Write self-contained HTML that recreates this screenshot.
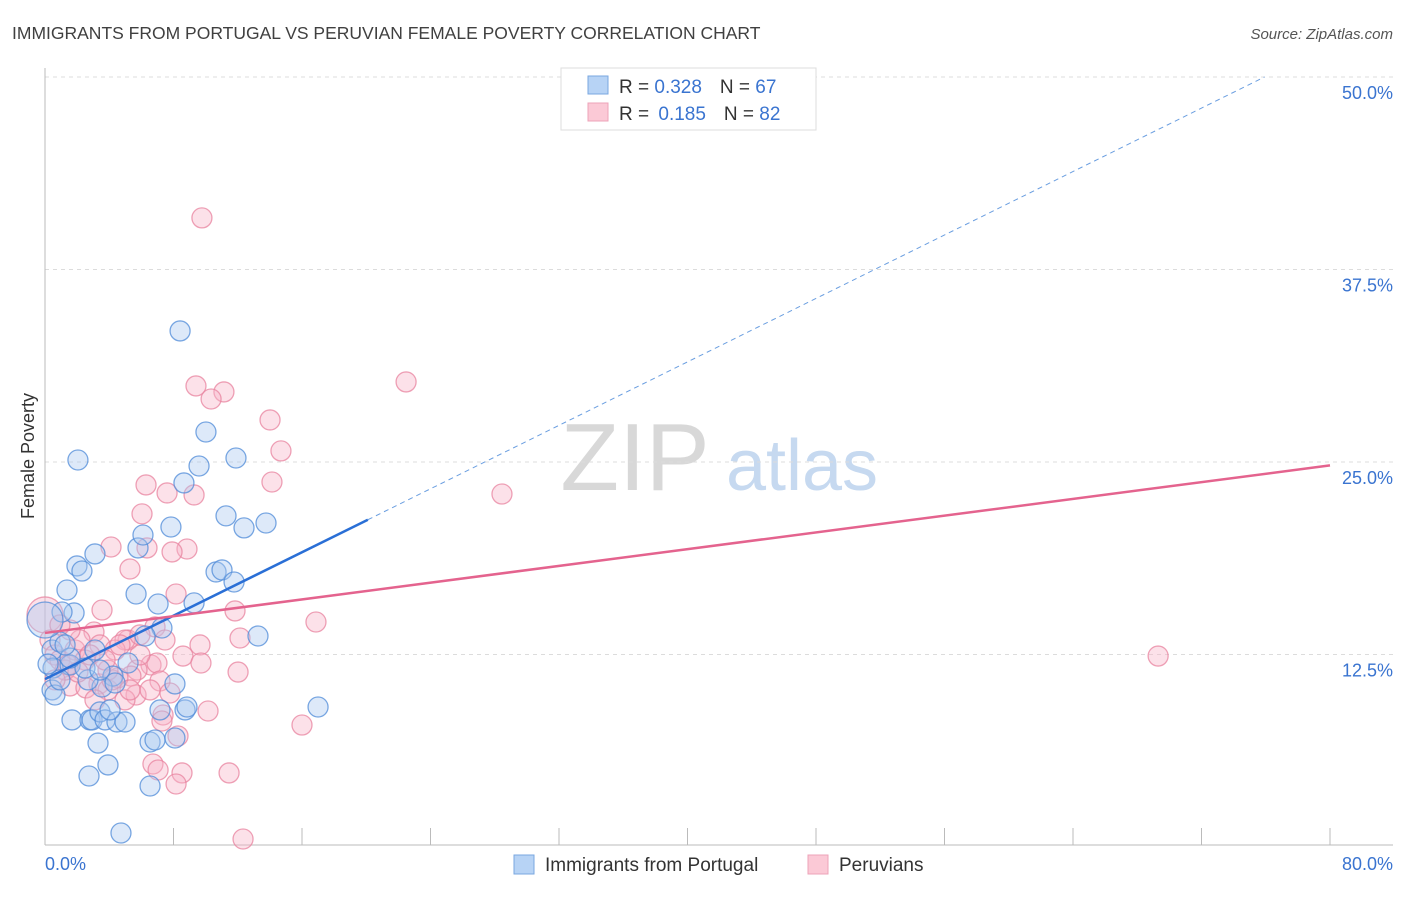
<!DOCTYPE html>
<html><head><meta charset="utf-8"><style>
body{margin:0;background:#fff;font-family:"Liberation Sans",sans-serif}
svg text{font-family:"Liberation Sans",sans-serif}
</style></head><body>
<svg id="chart" width="1406" height="892" viewBox="0 0 1406 892" xmlns="http://www.w3.org/2000/svg">
<text x="12" y="39" font-size="17.5" fill="#404040">IMMIGRANTS FROM PORTUGAL VS PERUVIAN FEMALE POVERTY CORRELATION CHART</text>
<text x="1393" y="39" font-size="15" fill="#555" font-style="italic" text-anchor="end">Source: ZipAtlas.com</text>
<g>
<text x="635" y="490" font-size="96" fill="#d8d8d8" font-family="Liberation Serif,serif" text-anchor="middle">ZIP</text>
<text x="802" y="490" font-size="72" fill="#c6d9f0" text-anchor="middle">atlas</text>
</g>
<g id="grid"></g>
<g id="axes"></g>
<g id="marks"></g>
<g id="trends"></g>
<text transform="translate(34,456) rotate(-90)" font-size="18" fill="#333" text-anchor="middle">Female Poverty</text>
<g>
<rect x="561" y="68" width="255" height="62" fill="#fff" stroke="#ddd"/>
<rect x="588" y="76" width="20" height="18" fill="#b7d3f5" stroke="#7aa7e0"/>
<rect x="588" y="103" width="20" height="18" fill="#fbc9d6" stroke="#eea3b8"/>
<text x="619" y="93" font-size="19" fill="#333">R = <tspan fill="#3a74d0">0.328</tspan><tspan dx="18" fill="#333">N = </tspan><tspan fill="#3a74d0">67</tspan></text>
<text x="619" y="120" font-size="19" fill="#333">R = <tspan dx="4" fill="#3a74d0">0.185</tspan><tspan dx="18" fill="#333">N = </tspan><tspan fill="#3a74d0">82</tspan></text>
</g>
<g>
<rect x="514" y="855" width="20" height="19" fill="#b7d3f5" stroke="#7aa7e0"/>
<text x="545" y="871" font-size="19" fill="#333">Immigrants from Portugal</text>
<rect x="808" y="855" width="20" height="19" fill="#fbc9d6" stroke="#eea3b8"/>
<text x="839" y="871" font-size="19" fill="#333">Peruvians</text>
</g>
</svg>
<script>
const xTicks=[0,8,16,24,32,40,48,56,64,72,80];
const yTicks=[12.5,25,37.5,50];
const yTickLabels=["12.5%","25.0%","37.5%","50.0%"];
const xEndLabels=["0.0%","80.0%"];
const blueX=[2.05,1.37,1.81,1.99,2.30,3.11,1.06,0.44,0.50,0.44,0.62,1.56,0.93,1.68,2.80,2.93,3.42,3.74,4.48,4.98,3.30,2.74,3.92,4.73,6.54,6.54,6.85,8.09,8.72,8.84,8.09,7.28,7.04,5.67,5.79,6.10,7.84,8.65,9.59,10.02,8.41,11.89,11.27,12.39,13.76,10.65,11.02,11.77,9.28,13.26,17.00,6.23,5.17,4.23,3.55,4.36,2.68,2.49,1.56,1.25,0.93,0,0.19,3.11,4.05,7.16,3.42];
const blueY=[25.13,16.69,15.20,18.25,17.92,19.03,15.26,12.79,11.62,10.20,9.87,11.82,13.31,8.25,8.25,8.25,8.77,8.25,8.12,8.12,6.75,4.61,5.33,0.91,3.96,6.82,6.95,7.08,8.90,9.09,10.59,14.22,15.78,16.43,19.42,20.26,20.78,23.64,24.74,26.95,33.51,25.26,21.50,20.72,21.04,17.86,17.99,17.21,15.85,13.70,9.09,13.70,11.95,11.10,10.39,10.65,10.85,11.62,12.27,13.12,10.85,14.74,11.88,12.79,8.90,8.90,11.49];
const pinkX=[9.77,9.40,11.14,10.34,22.48,14.01,14.69,14.13,28.45,6.29,7.60,9.28,6.04,4.11,6.35,8.84,7.91,5.29,8.16,3.55,11.83,16.87,3.05,5.17,4.98,6.85,9.65,12.14,8.59,9.71,6.60,6.97,5.73,5.35,4.54,3.36,1.56,2.55,3.92,7.16,12.02,5.67,7.78,4.17,10.15,7.35,7.28,16.00,8.28,6.72,7.04,8.53,8.16,11.46,12.33,69.30,0,0.31,0.62,0.93,1.25,1.87,2.18,2.49,1.56,3.42,4.36,2.80,5.91,4.98,6.54,4.67,0.62,1.43,2.05,3.92,7.47,3.11,5.29,5.91,0.93,3.74];
const pinkY=[40.85,29.94,29.55,29.09,30.20,27.73,25.72,23.70,22.92,23.51,22.99,22.86,21.63,19.48,19.42,19.35,19.16,18.05,16.43,15.39,15.33,14.61,13.96,13.44,13.44,14.29,13.12,13.57,12.40,11.95,11.82,11.95,11.49,11.10,10.98,10.59,10.46,10.33,10.20,10.78,11.36,9.87,10.00,10.85,8.83,8.57,8.18,7.92,7.21,5.39,5.00,4.81,4.09,4.81,0.52,12.40,15.07,13.44,12.47,12.14,11.49,12.79,13.44,12.14,14.09,13.12,12.79,12.47,12.47,9.55,10.20,13.12,10.85,11.82,11.36,11.49,13.44,9.55,10.20,13.77,14.42,12.14];
const blueTrend=[10.9,0.515];
const pinkTrend=[13.9,0.136];
const NS="http://www.w3.org/2000/svg";
const X0=45,X1=1330,Y0=847,YPER=192.5/12.5;
function sx(v){return X0+v/80*(X1-X0);}
function sy(v){return Y0-v*YPER;}
function mk(tag,attrs,parent){const e=document.createElementNS(NS,tag);for(const k in attrs)e.setAttribute(k,attrs[k]);parent.appendChild(e);return e;}
const grid=document.getElementById('grid'),axes=document.getElementById('axes'),marks=document.getElementById('marks'),trends=document.getElementById('trends');
yTicks.forEach((t,i)=>{
 const l=mk('line',{x1:45,x2:1393,y1:sy(t),y2:sy(t),stroke:'#dcdcdc','stroke-dasharray':'4,4'},grid);
 
 
 const tx=mk('text',{x:1393,y:sy(t)+22,'font-size':18,fill:'#3a74d0','text-anchor':'end'},axes);
 tx.textContent=yTickLabels[i];
 
 
});
const la=mk('line',{x1:45,x2:45,y1:68,y2:845,stroke:'#bbb'},axes);


const ba=mk('line',{x1:45,x2:1393,y1:845,y2:845,stroke:'#bbb'},axes);


xTicks.forEach(t=>{
 const l=mk('line',{x1:sx(t),x2:sx(t),y1:828,y2:845,stroke:'#bbb'},axes);
 
 
});
const xl0=mk('text',{x:45,y:870,'font-size':18,fill:'#3a74d0'},axes);xl0.textContent=xEndLabels[0];


const xl1=mk('text',{x:1393,y:870,'font-size':18,fill:'#3a74d0','text-anchor':'end'},axes);xl1.textContent=xEndLabels[1];


function pts(xs,ys,fill,stroke,name){
 xs.forEach((x,i)=>{
  const c=mk('circle',{cx:sx(x),cy:sy(ys[i]),r:i===(name==='peruvian-point'?56:61)?18:10,fill:fill,'fill-opacity':0.4,stroke:stroke,'stroke-opacity':0.75,'stroke-width':1.3},marks);
  
  
 });
}
pts(pinkX,pinkY,'#f7b4c7','#e8839f','peruvian-point');
pts(blueX,blueY,'#a9c9f0','#4f8bd8','portugal-point');
const bxEnd=20.1,byEndX=(50-blueTrend[0])/blueTrend[1];
const b1=mk('line',{x1:sx(0),y1:sy(blueTrend[0]),x2:sx(bxEnd),y2:sy(blueTrend[0]+blueTrend[1]*bxEnd),stroke:'#2a6fd6','stroke-width':2.5},trends);


const b2=mk('line',{x1:sx(bxEnd),y1:sy(blueTrend[0]+blueTrend[1]*bxEnd),x2:sx(byEndX),y2:sy(50),stroke:'#6a9ee0','stroke-width':1,'stroke-dasharray':'5,4'},trends);


const p1=mk('line',{x1:sx(0),y1:sy(pinkTrend[0]),x2:sx(80),y2:sy(pinkTrend[0]+pinkTrend[1]*80),stroke:'#e4638e','stroke-width':2.5},trends);


</script>
</body></html>
